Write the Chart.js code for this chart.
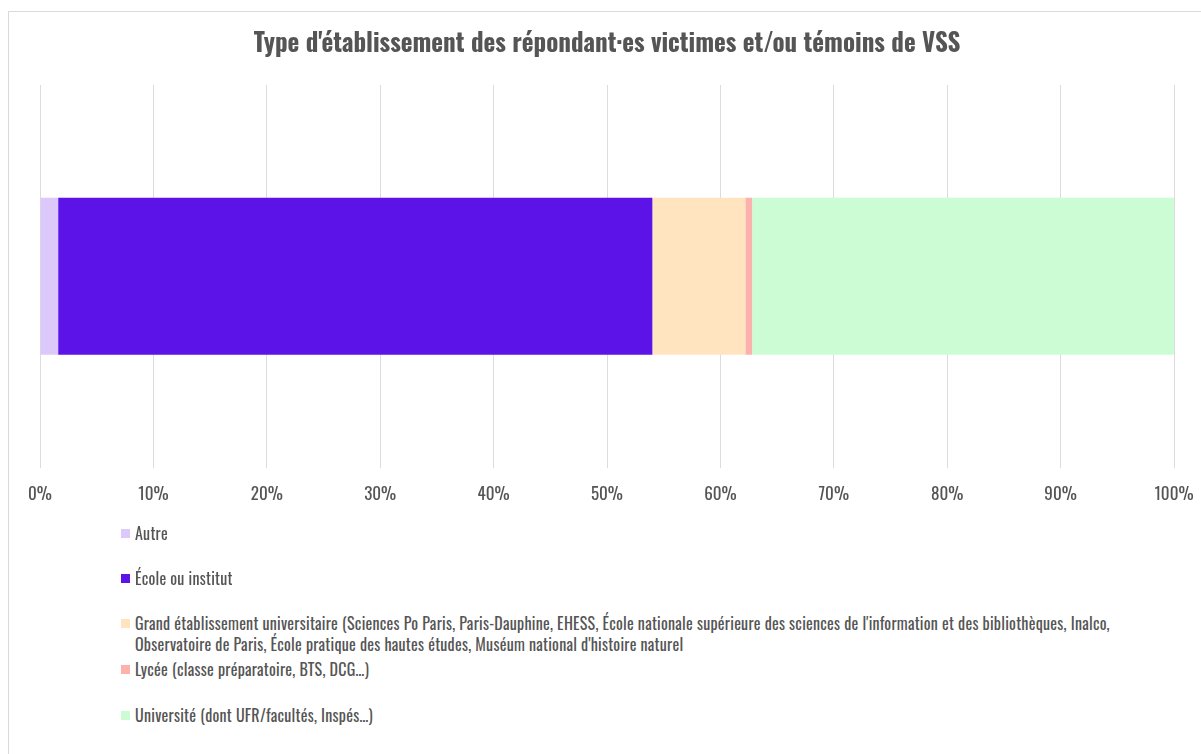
<!DOCTYPE html>
<html>
<head>
<meta charset="utf-8">
<script src="https://cdn.jsdelivr.net/npm/chart.js@4.4.1/dist/chart.umd.min.js"></script>
<style>
  html, body { margin: 0; padding: 0; background: #fff; overflow: hidden; }
  body { width: 1201px; height: 754px; position: relative; }
  #frame { position: absolute; left: 8px; top: 11px; width: 1300px; height: 900px; border: 1px solid #d9d9d9; box-sizing: border-box; }
  #wrap { position: absolute; left: 0; top: 0; width: 1201px; height: 531px; }
  #legend { position: absolute; left: 121px; top: 0; font-family: Oswald, "Open Sans", sans-serif; font-size: 16px; letter-spacing: 0.25px; color: #555; }
  .item { position: absolute; left: 0; white-space: nowrap; line-height: 21px; }
  .item .box { position: absolute; left: 0; top: 6px; width: 9px; height: 9px; }
  .item .txt { margin-left: 14px; display: block; }
</style>
</head>
<body>
<div id="frame"></div>
<div id="wrap"><canvas id="chart"></canvas></div>
<div id="legend"></div>
<script>
// data
const chartTitle = "Type d'établissement des répondant·es victimes et/ou témoins de VSS"
const categories = [""]
const seriesNames = [
  "Autre",
  "École ou institut",
  ["Grand établissement universitaire (Sciences Po Paris, Paris-Dauphine, EHESS, École nationale supérieure des sciences de l'information et des bibliothèques, Inalco,",
   "Observatoire de Paris, École pratique des hautes études, Muséum national d'histoire naturel"],
  "Lycée (classe préparatoire, BTS, DCG…)",
  "Université (dont UFR/facultés, Inspés…)"
]
const seriesValues = [1.6, 52.4, 8.2, 0.6, 37.2]
const seriesColors = ["#dcc8fa", "#5b13e8", "#ffe4bf", "#fdb1ac", "#ccfcd4"]
const xTicks = [0, 10, 20, 30, 40, 50, 60, 70, 80, 90, 100]

const fontFam = 'Oswald, "Open Sans", sans-serif'

const datasets = seriesNames.map((name, i) => ({
  label: Array.isArray(name) ? name.join(' ') : name,
  data: [seriesValues[i]],
  backgroundColor: seriesColors[i],
  borderWidth: 0,
  barPercentage: 0.41,
  categoryPercentage: 1
}))

const ctx = document.getElementById('chart').getContext('2d')
const myChart = new Chart(ctx, {
  type: 'bar',
  data: { labels: categories, datasets: datasets },
  options: {
    indexAxis: 'y',
    responsive: true,
    maintainAspectRatio: false,
    animation: false,
    layout: { padding: { left: 40, right: 27, top: 0, bottom: 9 } },
    plugins: {
      legend: { display: false },
      tooltip: { enabled: false },
      title: {
        display: true,
        text: chartTitle,
        color: '#555',
        font: { family: fontFam, size: 25, weight: 'bold' },
        padding: { top: 29, bottom: 26 }
      }
    },
    scales: {
      x: {
        stacked: true,
        min: 0,
        max: 100,
        afterBuildTicks: (axis) => { axis.ticks = xTicks.map(v => ({ value: v })) },
        afterFit: (axis) => { axis.paddingLeft = 0; axis.paddingRight = 0 },
        ticks: {
          callback: (v) => v + '%',
          color: '#555',
          font: { family: fontFam, size: 17 },
          padding: 17,
          maxRotation: 0
        },
        grid: { color: '#dcdcdc', drawTicks: false },
        border: { display: false }
      },
      y: {
        stacked: true,
        display: false
      }
    }
  }
})

// legend
const legend = document.getElementById('legend')
const legendTops = [523, 568, 613, 659, 705]
seriesNames.forEach((name, i) => {
  const lines = Array.isArray(name) ? name : [name]
  const item = document.createElement('div')
  item.className = 'item'
  item.style.top = legendTops[i] + 'px'
  item.innerHTML = '<span class="box" style="background:' + seriesColors[i] + '"></span>' +
    lines.map(l => '<span class="txt">' + l + '</span>').join('')
  legend.appendChild(item)
})
</script>
</body>
</html>
